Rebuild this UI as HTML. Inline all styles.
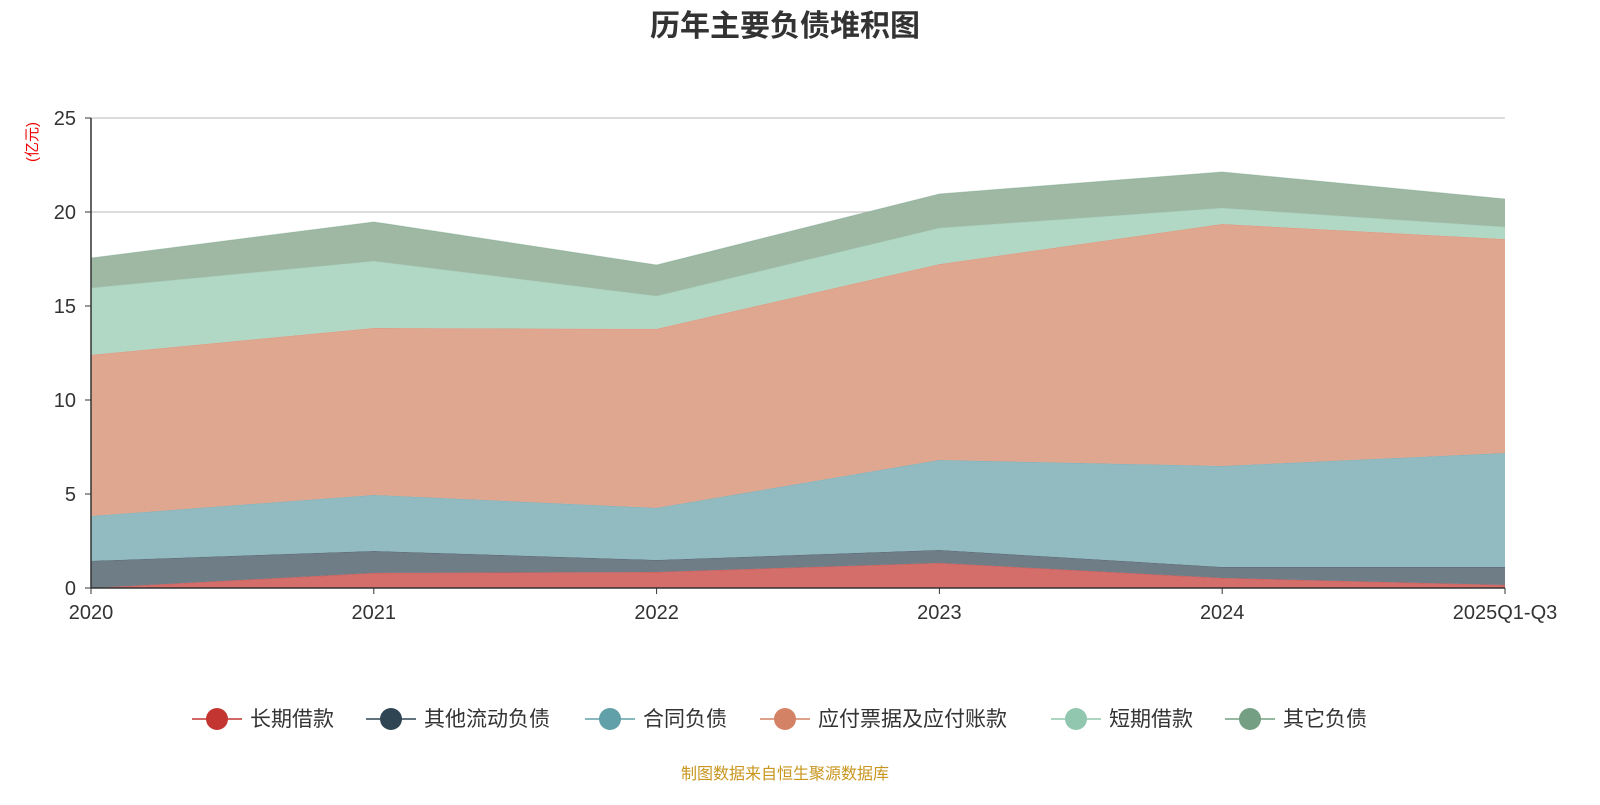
<!DOCTYPE html>
<html><head><meta charset="utf-8">
<style>
body{margin:0;background:#fff;font-family:"Liberation Sans","Noto Sans CJK SC",sans-serif;}
svg text{font-family:"Liberation Sans","Noto Sans CJK SC",sans-serif;}
</style></head>
<body>
<svg id="chart" width="1600" height="800" xmlns="http://www.w3.org/2000/svg">
<text x="785" y="36" text-anchor="middle" font-size="30" font-weight="bold" fill="#333">历年主要负债堆积图</text>
<text transform="translate(37,142) rotate(-90)" text-anchor="middle" font-size="15" fill="#e00">(亿元)</text>
<g id="grid"></g><g id="areas"></g><g id="axes"></g><g id="legend"></g>
<text x="785" y="779" text-anchor="middle" font-size="16" fill="#c8961e">制图数据来自恒生聚源数据库</text>
</svg>
<script>
const categories=["2020","2021","2022","2023","2024","2025Q1-Q3"];
const seriesNames=["长期借款","其他流动负债","合同负债","应付票据及应付账款","短期借款","其它负债"];
const longLoan=[0,0.8,0.85,1.33,0.53,0.16];
const otherCurrent=[1.44,1.17,0.64,0.69,0.59,0.96];
const contract=[2.39,2.98,2.77,4.79,5.37,6.06];
const payables=[8.57,8.88,9.52,10.42,12.87,11.38];
const shortLoan=[3.56,3.56,1.75,1.92,0.85,0.64];
const otherLiab=[1.59,2.08,1.65,1.81,1.92,1.49];
const yTicks=[0,5,10,15,20,25];
const series=[longLoan,otherCurrent,contract,payables,shortLoan,otherLiab];
const lineColors=["#c23531","#2f4554","#61a0a8","#d48265","#91c7ae","#749f83"];
const fillColors=["#d46e6a","#6f7d87","#92bac1","#dfa690","#b1d8c5","#9eb8a4"];
const X0=91,X1=1505,Y0=588,Y1=118;
const xs=i=>X0+(X1-X0)*i/(categories.length-1);
const ys=v=>Y0-(Y0-Y1)*v/25;
const NS="http://www.w3.org/2000/svg";
function mk(t,a,p){const e=document.createElementNS(NS,t);for(const k in a)e.setAttribute(k,a[k]);p.appendChild(e);return e;}
const grid=document.getElementById('grid'),axes=document.getElementById('axes'),areas=document.getElementById('areas'),legend=document.getElementById('legend');
yTicks.forEach(t=>{
 if(t>0){const l=mk('line',{x1:X0,x2:X1,y1:ys(t),y2:ys(t),stroke:'#c8c8c8','stroke-width':1.2},grid);
 
 }
 const tx=mk('text',{x:X0-15,y:ys(t)+7,'text-anchor':'end','font-size':20,fill:'#333'},axes);tx.textContent=t;
 
 
 mk('line',{x1:X0-6,x2:X0,y1:ys(t),y2:ys(t),stroke:'#333'},axes);
});
let cum=categories.map(()=>0);
series.forEach((s,si)=>{
 const lo=cum.slice();const hi=cum.map((c,i)=>c+s[i]);cum=hi;
 let d='';hi.forEach((v,i)=>d+=(i?'L':'M')+xs(i)+','+ys(v));
 for(let i=lo.length-1;i>=0;i--)d+='L'+xs(i)+','+ys(lo[i]);d+='Z';
 const p=mk('path',{d:d,fill:fillColors[si]},areas);
 
 
 let ld='';hi.forEach((v,i)=>ld+=(i?'L':'M')+xs(i)+','+ys(v));
 mk('path',{d:ld,fill:'none',stroke:lineColors[si],'stroke-width':1,'stroke-opacity':0.4},areas);
});
mk('line',{x1:X0,x2:X0,y1:Y1,y2:Y0,stroke:'#333','stroke-width':1.5},axes);
mk('line',{x1:X0,x2:X1,y1:Y0,y2:Y0,stroke:'#333','stroke-width':1.5},axes);
categories.forEach((c,i)=>{
 mk('line',{x1:xs(i),x2:xs(i),y1:Y0,y2:Y0+6,stroke:'#333'},axes);
 const t=mk('text',{x:xs(i),y:Y0+31,'text-anchor':'middle','font-size':20,fill:'#333'},axes);t.textContent=c;
 
 
});
const legX=[192,366,585,760,1051,1225];
seriesNames.forEach((n,i)=>{
 const g=mk('g',{},legend);
 
 
 const x=legX[i];
 mk('line',{x1:x,x2:x+50,y1:719,y2:719,stroke:lineColors[i],'stroke-width':1.5},g);
 mk('circle',{cx:x+25,cy:719,r:11,fill:lineColors[i]},g);
 const t=mk('text',{x:x+58,y:726,'font-size':21,fill:'#333'},g);t.textContent=n;
});
</script>
</body></html>
